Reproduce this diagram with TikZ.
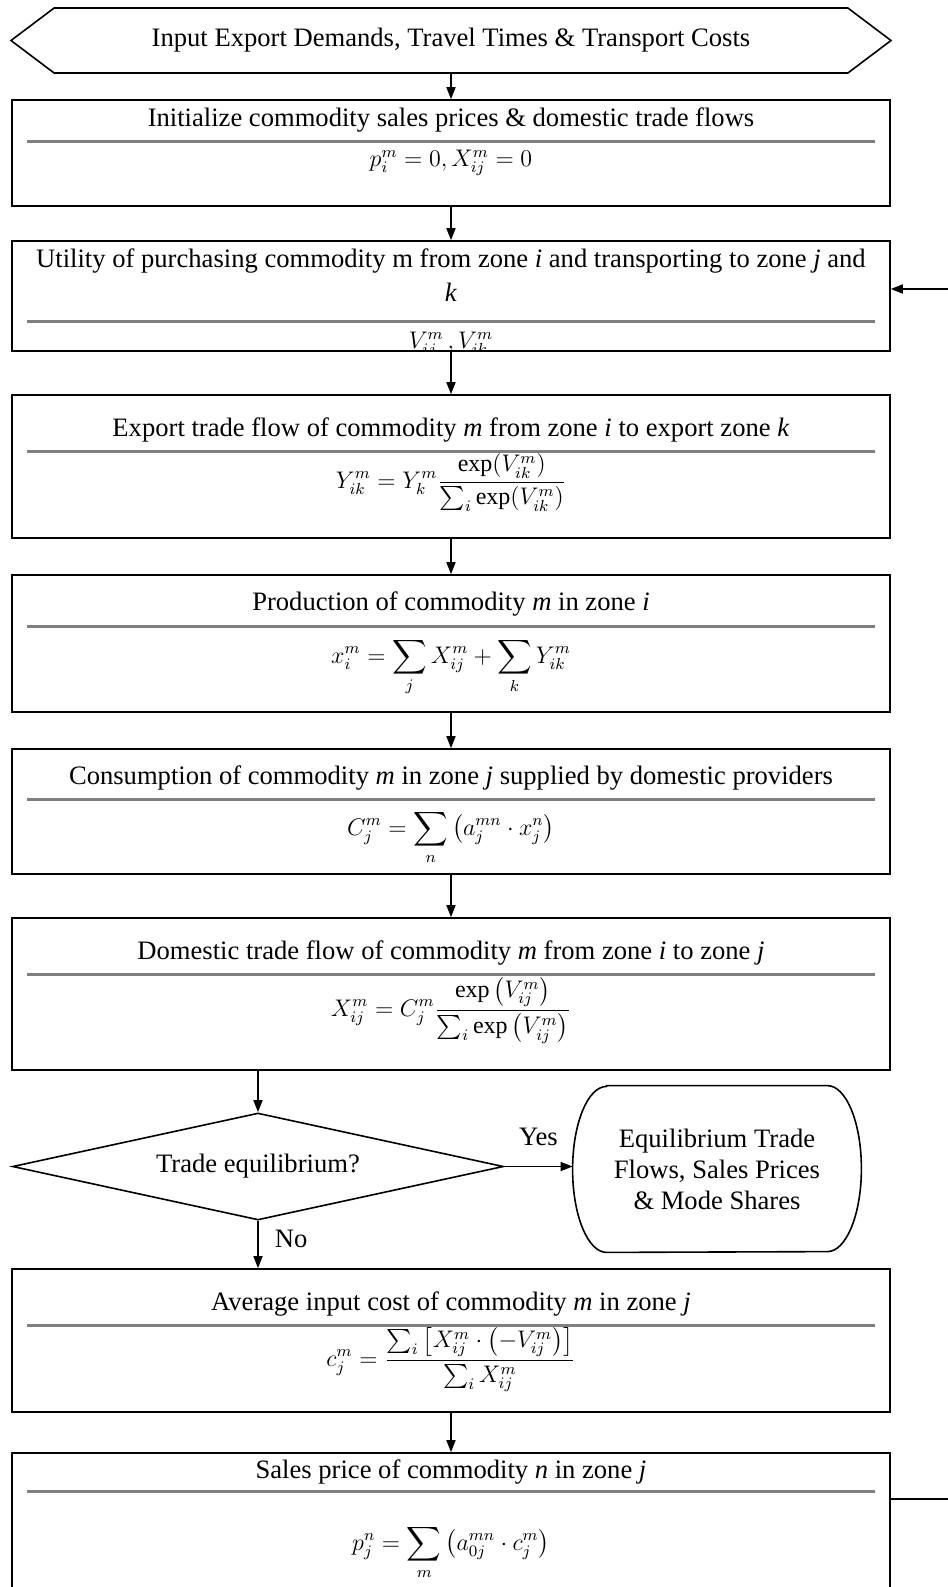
\documentclass[12pt,tikz,border=0pt]{standalone}
\usepackage{amsmath}
\usepackage{fontspec}
\setmainfont{Liberation Serif}
\usetikzlibrary{arrows.meta, shapes.geometric, shapes.symbols}

\begin{document}
\begin{tikzpicture}[
    x=0.5pt, y=-0.5pt,
    >={Triangle[length=6pt, width=4.5pt]},
    font=\fontsize{13.3pt}{16pt}\selectfont,
    flowbox/.style={draw, line width=0.8pt, minimum width=439pt, inner sep=0pt},
    head/.style={anchor=base, inner sep=0pt},
    eqn/.style={anchor=base, inner sep=0pt, font=\fontsize{12pt}{14pt}\selectfont},
    sepline/.style={black!50, line width=1.3pt},
    flow/.style={line width=0.8pt, ->},
]

\useasboundingbox (0,0) rectangle (948,1587);

% Input
\node[draw, line width=0.8pt, signal, signal to=west and east, signal pointer angle=74,
      minimum width=440pt, minimum height=32.5pt, inner sep=0pt] (inp) at (451,40.5)
    {Input Export Demands, Travel Times \& Transport Costs};

% Step 1
\node[flowbox, minimum height=53pt] (b1) at (451,153) {};
\node[head] (t1) at ([yshift=-13.5pt]b1.north) {Initialize commodity sales prices \& domestic trade flows};
\draw[sepline] ([xshift=8pt, yshift=-21pt]b1.north west) -- ([xshift=-8pt, yshift=-21pt]b1.north east);
\node[eqn] (f1) at ([yshift=-33.5pt]b1.north) {$p_i^m = 0, X_{ij}^m = 0$};

% Step 2
\node[flowbox, minimum height=55pt] (b2) at (451,296) {};
\node[anchor=north, inner sep=0pt, align=center] (t2) at ([yshift=-4pt]b2.north)
    {Utility of purchasing commodity m from zone \textit{i} and transporting to zone \textit{j} and\\[1pt] \textit{k}};
\draw[sepline] ([xshift=8pt, yshift=-40.5pt]b2.north west) -- ([xshift=-8pt, yshift=-40.5pt]b2.north east);
\begin{scope}
    \clip (b2.south west) rectangle (b2.north east);
    \node[eqn] (f2) at ([yshift=-54pt]b2.north) {$V_{ij}^m\,, V_{ik}^m$};
\end{scope}

% Step 3
\node[flowbox, minimum height=71.5pt] (b3) at (451,466.5) {};
\node[head] (t3) at ([yshift=-21pt]b3.north) {Export trade flow of commodity \textit{m} from zone \textit{i} to export zone \textit{k}};
\draw[sepline] ([xshift=8pt, yshift=-28.5pt]b3.north west) -- ([xshift=-8pt, yshift=-28.5pt]b3.north east);
\node[eqn] (f3) at ([yshift=-47pt]b3.north)
    {$\displaystyle Y_{ik}^m = Y_k^m \frac{\exp(V_{ik}^m)}{\sum_i \exp(V_{ik}^m)}$};

% Step 4
\node[flowbox, minimum height=68.5pt] (b4) at (451,643.5) {};
\node[head] (t4) at ([yshift=-18pt]b4.north) {Production of commodity \textit{m} in zone \textit{i}};
\draw[sepline] ([xshift=8pt, yshift=-26pt]b4.north west) -- ([xshift=-8pt, yshift=-26pt]b4.north east);
\node[eqn] (f4) at ([yshift=-44.5pt]b4.north)
    {$\displaystyle x_i^m = \sum_j X_{ij}^m + \sum_k Y_{ik}^m$};

% Step 5
\node[flowbox, minimum height=62.5pt] (b5) at (451,811.5) {};
\node[head] (t5) at ([yshift=-18pt]b5.north) {Consumption of commodity \textit{m} in zone \textit{j} supplied by domestic providers};
\draw[sepline] ([xshift=8pt, yshift=-25.5pt]b5.north west) -- ([xshift=-8pt, yshift=-25.5pt]b5.north east);
\node[eqn] (f5) at ([yshift=-43.5pt]b5.north)
    {$\displaystyle C_j^m = \sum_n \left(a_j^{mn} \cdot x_j^n\right)$};

% Step 6
\node[flowbox, minimum height=76pt] (b6) at (451,994) {};
\node[head] (t6) at ([yshift=-21pt]b6.north) {Domestic trade flow of commodity \textit{m} from zone \textit{i} to zone \textit{j}};
\draw[sepline] ([xshift=8pt, yshift=-28.5pt]b6.north west) -- ([xshift=-8pt, yshift=-28.5pt]b6.north east);
\node[eqn] (f6) at ([yshift=-49.5pt]b6.north)
    {$\displaystyle X_{ij}^m = C_j^m \frac{\exp\left(V_{ij}^m\right)}{\sum_i \exp\left(V_{ij}^m\right)}$};

% Decision and result
\node[draw, line width=0.8pt, diamond, aspect=4.6, minimum width=245.5pt, minimum height=53.5pt, inner sep=0pt]
    (dec) at (258,1166.5) {Trade equilibrium?};
\node[minimum width=110pt, minimum height=83pt, inner sep=0pt, align=center,
      font=\fontsize{13.3pt}{15.5pt}\selectfont] (term) at (717,1169)
    {Equilibrium Trade\\Flows, Sales Prices\\\& Mode Shares};
\draw[line width=0.8pt] (term.north west) -- (term.north east)
    arc[start angle=90, end angle=-90, x radius=17pt, y radius=41.5pt]
    -- (term.south west)
    arc[start angle=270, end angle=90, x radius=17pt, y radius=41.5pt] -- cycle;

% Step 7
\node[flowbox, minimum height=71.5pt] (b7) at (451,1340.5) {};
\node[head] (t7) at ([yshift=-21pt]b7.north) {Average input cost of commodity \textit{m} in zone \textit{j}};
\draw[sepline] ([xshift=8pt, yshift=-28.5pt]b7.north west) -- ([xshift=-8pt, yshift=-28.5pt]b7.north east);
\node[eqn] (f7) at ([yshift=-49pt]b7.north)
    {$\displaystyle c_j^m = \frac{\sum_i \left[X_{ij}^m \cdot \left(-V_{ij}^m\right)\right]}{\sum_i X_{ij}^m}$};

% Step 8
\node[flowbox, minimum height=90pt] (b8) at (451,1543) {};
\node[head] (t8) at ([yshift=-13pt]b8.north) {Sales price of commodity \textit{n} in zone \textit{j}};
\draw[sepline] ([xshift=8pt, yshift=-19.5pt]b8.north west) -- ([xshift=-8pt, yshift=-19.5pt]b8.north east);
\node[eqn] (f8) at ([yshift=-49pt]b8.north)
    {$\displaystyle p_j^n = \sum_m \left(a_{0j}^{mn} \cdot c_j^m\right)$};

% Main flow
\draw[flow] (inp.south) -- (b1.north);
\draw[flow] (b1.south) -- (b2.north);
\draw[flow] (b2.south) -- (b3.north);
\draw[flow] (b3.south) -- (b4.north);
\draw[flow] (b4.south) -- (b5.north);
\draw[flow] (b5.south) -- (b6.north);
\draw[flow] (dec.north |- b6.south) -- (dec.north);
\draw[flow] (dec.east) -- node[above=10pt, inner sep=0pt] {Yes} ([xshift=-17pt]term.west |- dec.east);
\draw[flow] (dec.south) -- node[right=8pt, pos=0.38, inner sep=0pt] {No} (dec.south |- b7.north);
\draw[flow] (b7.south) -- (b8.north);

% Feedback loop: sales prices back to utilities
\draw[flow] ([yshift=-23.5pt]b8.north east) -- ++(80,0) |- ([yshift=3.5pt]b2.east);

\end{tikzpicture}
\end{document}
